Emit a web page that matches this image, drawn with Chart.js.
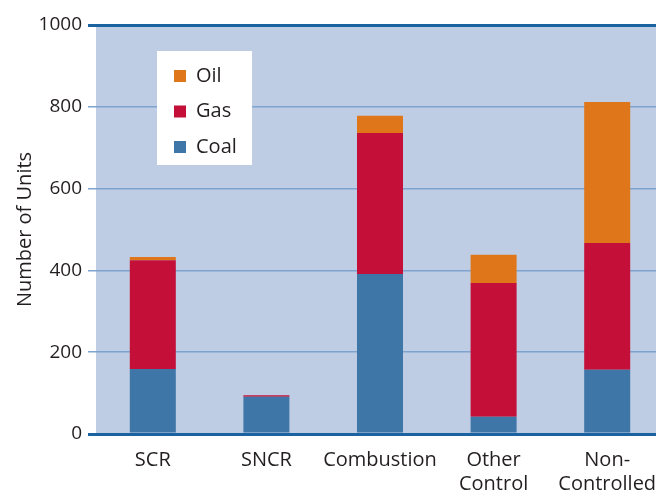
<!DOCTYPE html>
<html>
<head>
<meta charset="utf-8">
<script src="https://cdn.jsdelivr.net/npm/chart.js@4.4.1/dist/chart.umd.min.js"></script>
<style>
  html, body { margin: 0; padding: 0; background: #fff; overflow: hidden; }
  #wrap { width: 664px; height: 493px; }
</style>
</head>
<body>
<div id="wrap"><canvas id="units-bar" width="664" height="493"></canvas></div>
<script>
// categories and stacked series (number of units)
const categories = ['SCR', 'SNCR', 'Combustion', ['Other', 'Control'], ['Non-', 'Controlled']];
const coalUnits = [159, 91, 391, 42, 157];
const gasUnits = [266, 4, 345, 327, 310];
const oilUnits = [8, 0, 42, 69, 345];
const yTicks = [0, 200, 400, 600, 800, 1000];

const FONT = "'Open Sans', 'Noto Sans', sans-serif";
const TEXT = '#231f20';
const AXIS_DARK = '#1a62a0';
const GRID = '#7ea3cf';

// plot background
const plotBg = {
    id: 'plotBg',
    beforeDraw(chart) {
        const { ctx, chartArea: a } = chart;
        ctx.save();
        ctx.fillStyle = '#bfcde4';
        ctx.fillRect(a.left, a.top, a.right - a.left, a.bottom - a.top);
        ctx.restore();
    }
};

// legend box inside plot (Oil on top)
const boxLegend = {
    id: 'boxLegend',
    afterDraw(chart) {
        const ctx = chart.ctx;
        ctx.save();
        ctx.fillStyle = '#ffffff';
        ctx.fillRect(157, 51, 95, 114);
        const sets = chart.data.datasets.slice().reverse();
        ctx.font = '20px ' + FONT;
        ctx.textBaseline = 'middle';
        sets.forEach((ds, i) => {
            const cy = 76 + i * 35.5;
            ctx.fillStyle = ds.backgroundColor;
            ctx.fillRect(174, cy - 6, 12, 12);
            ctx.fillStyle = TEXT;
            ctx.fillText(ds.label, 196, cy);
        });
        ctx.restore();
    }
};

const isEdge = (c) => c.tick && (c.tick.value === 0 || c.tick.value === 1000);

new Chart(document.getElementById('units-bar'), {
    type: 'bar',
    data: {
        labels: categories,
        datasets: [
            { label: 'Coal', data: coalUnits, backgroundColor: '#3e76a8' },
            { label: 'Gas', data: gasUnits, backgroundColor: '#c41038' },
            { label: 'Oil', data: oilUnits, backgroundColor: '#df771a' }
        ]
    },
    options: {
        responsive: false,
        animation: false,
        devicePixelRatio: 1,
        layout: { padding: { left: 0, right: 0, top: 25, bottom: 0 } },
        datasets: { bar: { barPercentage: 0.405, categoryPercentage: 1.0, borderWidth: 0 } },
        plugins: { legend: { display: false }, tooltip: { enabled: false } },
        scales: {
            x: {
                stacked: true,
                grid: { display: false },
                border: { display: false },
                ticks: {
                    color: TEXT,
                    font: { family: FONT, size: 20, lineHeight: 1.2 },
                    padding: 6,
                    maxRotation: 0,
                    autoSkip: false
                },
                afterFit: (s) => { s.height = 59; }
            },
            y: {
                stacked: true,
                min: 0,
                max: 1000,
                afterBuildTicks: (s) => { s.ticks = yTicks.map(v => ({ value: v })); },
                border: { display: false },
                grid: {
                    color: (c) => isEdge(c) ? AXIS_DARK : GRID,
                    lineWidth: (c) => isEdge(c) ? 3 : 1.5,
                    tickLength: 8,
                    drawTicks: true
                },
                ticks: {
                    color: TEXT,
                    font: { family: FONT, size: 19 },
                    padding: 6,
                    callback: (v) => String(v)
                },
                title: {
                    display: true,
                    text: 'Number of Units',
                    color: TEXT,
                    font: { family: FONT, size: 20 },
                    padding: { top: 13, bottom: 0 }
                },
                afterFit: (s) => { s.width = 96; }
            }
        }
    },
    plugins: [plotBg, boxLegend]
});
</script>
</body>
</html>
